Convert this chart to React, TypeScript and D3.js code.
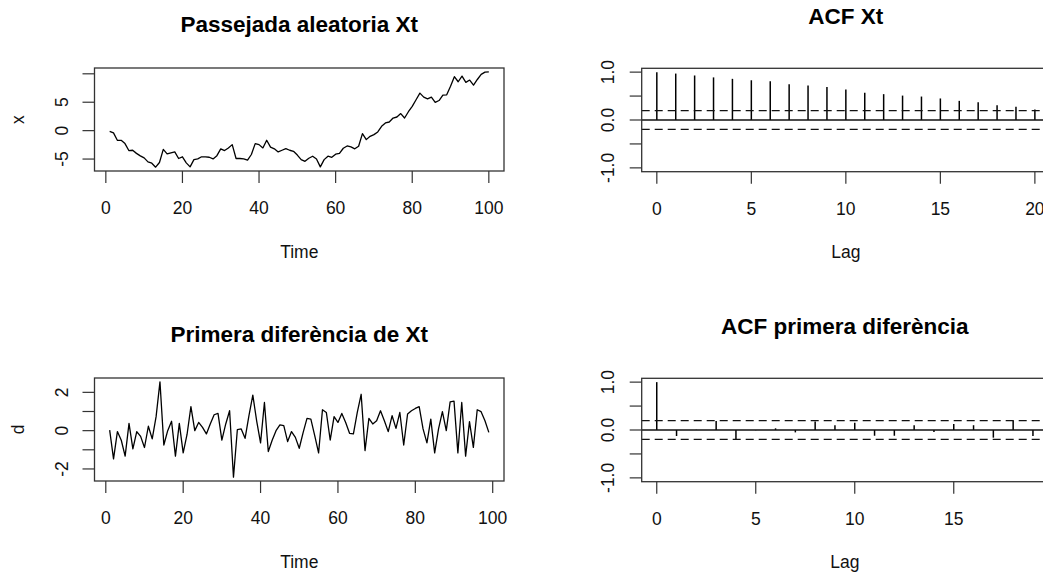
import React from "react";
import * as d3 from "d3";

// Random walk X_t, t = 1..100
const walk: number[] = [
  -0.12, -0.4, -1.7, -1.7, -2.28, -3.5, -3.45, -4.0, -4.44, -4.8,
  -5.5, -5.73, -6.43, -5.6, -3.3, -4.1, -3.9, -3.74, -4.9, -4.6,
  -5.67, -6.37, -5.1, -4.97, -4.6, -4.6, -4.68, -4.97, -4.4, -3.2,
  -3.5, -3.04, -2.46, -4.9, -4.9, -4.97, -5.2, -4.2, -2.28, -2.46,
  -3.04, -1.7, -2.9, -3.2, -3.74, -3.45, -3.16, -3.45, -3.63, -4.3,
  -5.1, -5.4, -4.85, -4.5, -5.0, -6.37, -5.1, -4.5, -4.7, -4.15,
  -4.0, -3.1, -2.7, -2.87, -3.2, -2.75, -0.53, -1.58, -1.0, -0.7,
  -0.23, 0.76, 1.35, 1.52, 2.22, 2.4, 3.0, 2.22, 3.33, 4.27,
  5.44, 6.6, 5.9, 5.6, 5.9, 4.97, 5.3, 6.26, 6.3, 7.8,
  9.5, 8.6, 9.6, 8.5, 8.9, 8.0, 9.0, 9.9, 10.3, 10.35,
];

// First difference d_t, t = 1..99
const diff1: number[] = [
  0.03, -1.47, -0.05, -0.5, -1.33, 0.38, -0.95, -0.05, -0.3, -0.88,
  0.23, -0.43, 0.73, 2.55, -0.75, 0.0, 0.49, -1.33, 0.38, -1.16,
  -0.2, 1.25, 0.0, 0.43, 0.17, -0.17, 0.35, 0.83, 0.9, -0.49,
  0.35, 1.04, -2.43, 0.05, 0.09, -0.4, 0.78, 1.85, 0.5, -0.64,
  1.47, -1.09, -0.5, 0.0, 0.3, 0.26, -0.57, -0.05, -0.35, -0.92,
  -0.1, 0.64, 0.6, -0.26, -1.16, 1.09, 0.95, -0.49, 0.73, 0.43,
  0.9, 0.43, -0.14, -0.17, 0.95, 1.9, -1.04, 0.64, 0.35, 0.52,
  1.04, 0.52, -0.05, 0.78, 0.12, 0.95, -0.75, 0.87, 1.04, 1.16,
  1.25, 0.09, -0.64, 0.6, -1.16, 0.09, 0.99, 0.0, 1.5, 1.54,
  -1.16, 1.47, -1.33, 0.47, -0.87, 1.09, 0.99, 0.52, -0.09,
];

// Sample autocorrelations, lag 0..20 and lag 0..19
const acfWalk: number[] = [
  1.0, 0.97, 0.93, 0.89, 0.86, 0.83, 0.81, 0.745, 0.72, 0.69,
  0.635, 0.57, 0.54, 0.51, 0.49, 0.45, 0.4, 0.37, 0.31, 0.275, 0.22,
];
const acfDiff: number[] = [
  1.0, -0.125, 0.005, 0.19, -0.21, -0.005, 0.035, -0.05, 0.18, 0.1,
  0.15, -0.12, -0.12, 0.1, -0.04, 0.125, 0.1, -0.16, 0.2, -0.125,
];
const ciWalk = 0.196;
const ciDiff = 0.197;

const timeTicks = [0, 20, 40, 60, 80, 100];
const lagTicks = [0, 5, 10, 15, 20];
const walkYTicks = [-5, 0, 5, 10];
const walkYLabels = [-5, 0, 5];
const diffYTicks = [-2, -1, 0, 1, 2];
const diffYLabels = [-2, 0, 2];
const acfYTicks = [-1, -0.5, 0, 0.5, 1];
const acfYLabels = [-1, 0, 1];

const FONT = "'Liberation Sans', Arial, Helvetica, sans-serif";
const TITLE_SIZE = 22.5;
const AXIS_SIZE = 17.5;
const TICK = 12;
const BOX = "#333";

type Box = { x0: number; x1: number; y0: number; y1: number };

const pad4 = (lo: number, hi: number): [number, number] => {
  const r = hi - lo;
  return [lo - 0.04 * r, hi + 0.04 * r];
};

function SeriesPanel(props: {
  values: number[];
  box: Box;
  title: string;
  ylab: string;
  yTicks: number[];
  yLabels: number[];
}) {
  const { values, box, title, ylab, yTicks, yLabels } = props;
  const n = values.length;
  const x = d3.scaleLinear().domain(pad4(1, n)).range([box.x0, box.x1]);
  const y = d3
    .scaleLinear()
    .domain(pad4(d3.min(values)!, d3.max(values)!))
    .range([box.y1, box.y0]);
  const line = d3
    .line<number>()
    .x((_, i) => x(i + 1))
    .y((v) => y(v));
  const mid = (box.x0 + box.x1) / 2;
  return (
    <g>
      <path d={line(values) || ""} fill="none" stroke="#000" strokeWidth={1.3} strokeLinejoin="round" />
      <rect x={box.x0} y={box.y0} width={box.x1 - box.x0} height={box.y1 - box.y0} fill="none" stroke={BOX} strokeWidth={1.3} />
      {timeTicks.map((t) => (
        <g key={"xt" + t}>
          <line x1={x(t)} x2={x(t)} y1={box.y1} y2={box.y1 + TICK} stroke={BOX} strokeWidth={1.2} />
          <text x={x(t)} y={box.y1 + 43} textAnchor="middle" fontSize={AXIS_SIZE} fontFamily={FONT} fill="#111">
            {t}
          </text>
        </g>
      ))}
      {yTicks.map((t) => (
        <line key={"yt" + t} x1={box.x0 - TICK} x2={box.x0} y1={y(t)} y2={y(t)} stroke={BOX} strokeWidth={1.2} />
      ))}
      {yLabels.map((t) => (
        <text
          key={"yl" + t}
          transform={`translate(${box.x0 - 32.5},${y(t)}) rotate(-90)`}
          textAnchor="middle"
          dy="0.36em"
          fontSize={AXIS_SIZE}
          fontFamily={FONT}
          fill="#111"
        >
          {String(t)}
        </text>
      ))}
      <text x={mid} y={box.y0 - 36.3} textAnchor="middle" fontSize={TITLE_SIZE} fontWeight="bold" fontFamily={FONT} fill="#000">
        {title}
      </text>
      <text x={mid} y={box.y1 + 87} textAnchor="middle" fontSize={AXIS_SIZE} fontFamily={FONT} fill="#111">
        Time
      </text>
      <text
        transform={`translate(19,${(box.y0 + box.y1) / 2}) rotate(-90)`}
        textAnchor="middle"
        dy="0.3em"
        fontSize={AXIS_SIZE}
        fontFamily={FONT}
        fill="#111"
      >
        {ylab}
      </text>
    </g>
  );
}

function AcfPanel(props: { values: number[]; ci: number; box: Box; title: string }) {
  const { values, ci, box, title } = props;
  const x = d3.scaleLinear().domain(pad4(0, values.length - 1)).range([box.x0, box.x1]);
  const y = d3.scaleLinear().domain(pad4(-1, 1)).range([box.y1, box.y0]);
  const mid = (box.x0 + box.x1) / 2;
  const maxLag = values.length - 1;
  return (
    <g>
      {values.map((v, lag) => (
        <line key={"s" + lag} x1={x(lag)} x2={x(lag)} y1={y(0)} y2={y(v)} stroke="#000" strokeWidth={1.5} />
      ))}
      <line x1={box.x0} x2={box.x1} y1={y(0)} y2={y(0)} stroke="#111" strokeWidth={1.3} />
      {[ci, -ci].map((c) => (
        <line key={"ci" + c} x1={box.x0} x2={box.x1} y1={y(c)} y2={y(c)} stroke="#111" strokeWidth={1.3} strokeDasharray="8,5" />
      ))}
      <rect x={box.x0} y={box.y0} width={box.x1 - box.x0} height={box.y1 - box.y0} fill="none" stroke={BOX} strokeWidth={1.3} />
      {lagTicks
        .filter((t) => t <= maxLag)
        .map((t) => (
          <g key={"xt" + t}>
            <line x1={x(t)} x2={x(t)} y1={box.y1} y2={box.y1 + TICK} stroke={BOX} strokeWidth={1.2} />
            <text x={x(t)} y={box.y1 + 43} textAnchor="middle" fontSize={AXIS_SIZE} fontFamily={FONT} fill="#111">
              {t}
            </text>
          </g>
        ))}
      {acfYTicks.map((t) => (
        <line key={"yt" + t} x1={box.x0 - TICK} x2={box.x0} y1={y(t)} y2={y(t)} stroke={BOX} strokeWidth={1.2} />
      ))}
      {acfYLabels.map((t) => (
        <text
          key={"yl" + t}
          transform={`translate(${box.x0 - 33.7},${y(t)}) rotate(-90)`}
          textAnchor="middle"
          dy="0.36em"
          fontSize={AXIS_SIZE}
          fontFamily={FONT}
          fill="#111"
        >
          {d3.format(".1f")(t).replace("\u2212", "-")}
        </text>
      ))}
      <text x={mid} y={box.y0 - 44.3} textAnchor="middle" fontSize={TITLE_SIZE} fontWeight="bold" fontFamily={FONT} fill="#000">
        {title}
      </text>
      <text x={mid} y={box.y1 + 86.5} textAnchor="middle" fontSize={AXIS_SIZE} fontFamily={FONT} fill="#111">
        Lag
      </text>
    </g>
  );
}

export default function App() {
  return (
    <svg
      width={1043}
      height={574}
      viewBox="0 0 1043 574"
      style={{ position: "absolute", left: 0, top: 0, background: "#fff", display: "block" }}
    >
      <rect x={0} y={0} width={1043} height={574} fill="#fff" />
      <SeriesPanel
        values={walk}
        box={{ x0: 94.5, x1: 504, y0: 68, y1: 171 }}
        title="Passejada aleatoria Xt"
        ylab="x"
        yTicks={walkYTicks}
        yLabels={walkYLabels}
      />
      <AcfPanel values={acfWalk} ci={ciWalk} box={{ x0: 641.7, x1: 1050, y0: 68.3, y1: 171.7 }} title="ACF Xt" />
      <SeriesPanel
        values={diff1}
        box={{ x0: 94.5, x1: 504, y0: 378, y1: 481 }}
        title="Primera diferència de Xt"
        ylab="d"
        yTicks={diffYTicks}
        yLabels={diffYLabels}
      />
      <AcfPanel
        values={acfDiff}
        ci={ciDiff}
        box={{ x0: 641.7, x1: 1048, y0: 378.3, y1: 481.7 }}
        title="ACF primera diferència"
      />
    </svg>
  );
}
